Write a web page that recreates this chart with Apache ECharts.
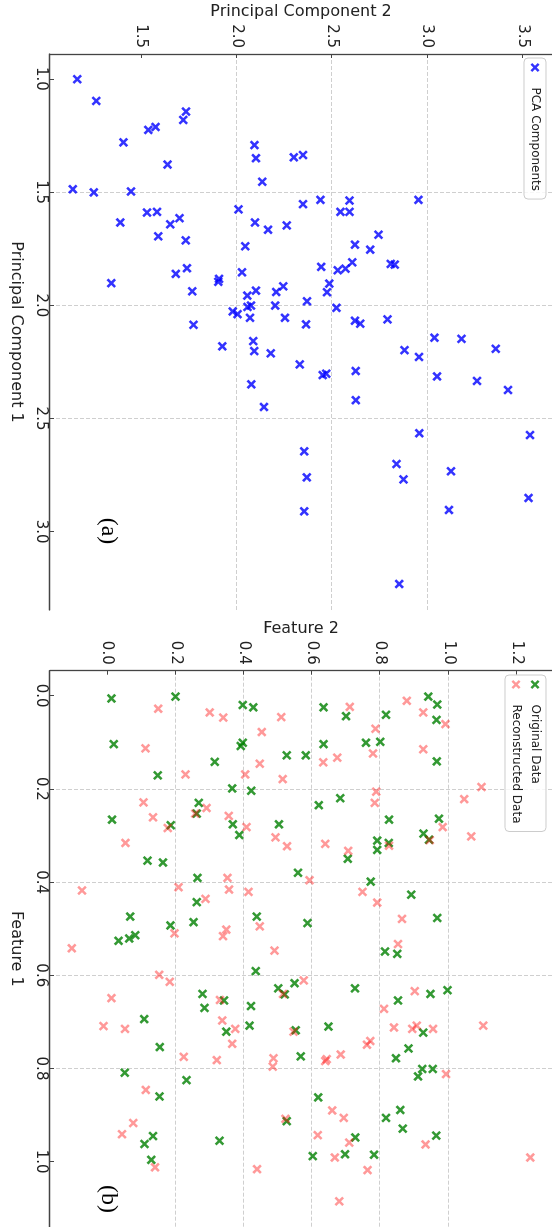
<!DOCTYPE html>
<html>
<head>
<meta charset="utf-8">
<script src="https://cdn.jsdelivr.net/npm/echarts@6.0.0/dist/echarts.min.js"></script>
<style>
  html, body { margin: 0; padding: 0; width: 552px; height: 1227px; overflow: hidden; background: #fff; }
  /* the figure is drawn landscape, then turned a quarter clockwise */
  #chart {
    position: absolute; left: 0; top: 0;
    width: 1227px; height: 552px;
    transform-origin: 0 0;
    transform: translate(552px, 0) rotate(90deg);
  }
</style>
</head>
<body>
<div id="chart"></div>
<script>
// (a) PCA components
const pc1 = [1.001, 1.097, 1.280, 1.225, 1.212, 1.181, 1.144, 1.292,
  1.378, 1.350, 1.454, 1.487, 1.501, 1.497, 1.634, 1.590, 1.587, 1.642, 1.615, 1.695, 1.713, 1.576, 1.634, 1.666, 1.647, 1.739, 1.836, 1.861, 1.902, 1.883, 1.896, 1.854, 1.938, 1.957, 1.935, 1.941, 1.916, 2.007, 2.001, 2.027, 2.039, 2.055, 2.001, 2.055, 2.086, 2.181, 2.158, 2.202, 2.212, 2.349, 2.449,
  1.346, 1.336, 1.553, 1.534, 1.537, 1.587, 1.587, 1.534, 1.688, 1.732, 1.754, 1.810, 1.830, 1.845, 1.838, 1.817, 1.820, 1.904, 1.942, 1.982, 2.011, 2.084, 2.068, 2.081, 2.062, 2.143, 2.148, 2.192, 2.198, 2.228, 2.261, 2.308, 2.302, 2.290, 2.314, 2.334, 2.374, 2.419, 2.565, 2.573, 2.645,
  2.760, 2.910, 2.701, 2.769, 2.733, 2.904, 2.851, 3.231];
const pc2 = [1.164, 1.264, 1.406, 1.537, 1.575, 1.720, 1.734, 2.093,
  1.638, 2.101, 2.134, 1.141, 1.251, 1.446, 1.390, 1.530, 1.582, 1.652, 1.700, 1.589, 1.733, 2.010, 2.096, 2.165, 2.263, 2.045, 1.739, 1.681, 1.343, 1.908, 1.904, 2.028, 1.767, 2.056, 2.101, 2.207, 2.244, 2.057, 2.075, 1.979, 2.005, 2.070, 2.202, 2.253, 1.774, 1.925, 2.087, 2.092, 2.179, 2.077, 2.143,
  2.300, 2.348, 2.348, 2.439, 2.592, 2.544, 2.592, 2.953, 2.744, 2.620, 2.700, 2.606, 2.443, 2.530, 2.571, 2.808, 2.829, 2.486, 2.474, 2.369, 2.523, 2.364, 2.620, 2.648, 2.791, 3.037, 3.179, 3.359, 2.880, 2.956, 2.331, 2.451, 2.470, 2.624, 3.051, 3.260, 3.423, 2.625, 2.958, 3.538, 2.354,
  2.368, 2.354, 2.838, 2.875, 3.124, 3.113, 3.531, 2.852];

// (b) original data
const origF1 = [0.006, 0.002, 0.020, 0.025, 0.104, 0.108, 0.101, 0.142, 0.171, 0.199, 0.204,
  0.025, 0.044, 0.041, 0.002, 0.019, 0.052, 0.104, 0.101, 0.099, 0.128, 0.128, 0.141,
  0.266, 0.230, 0.253, 0.278, 0.276, 0.299, 0.276, 0.354, 0.358, 0.391, 0.443, 0.474, 0.493, 0.486, 0.526, 0.521, 0.514, 0.474, 0.591, 0.628, 0.641, 0.640, 0.670, 0.654, 0.666, 0.708, 0.721, 0.694, 0.754,
  0.235, 0.220, 0.266, 0.311, 0.331, 0.316, 0.296, 0.309, 0.264, 0.350, 0.380, 0.399, 0.427, 0.477, 0.488, 0.549, 0.554, 0.617, 0.628, 0.654, 0.640, 0.632, 0.718, 0.710, 0.723, 0.757,
  0.809, 0.825, 0.860, 0.945, 0.962, 0.996, 0.955,
  0.774, 0.778, 0.801, 0.801, 0.817, 0.862, 0.906, 0.889, 0.929, 0.944, 0.913, 0.948, 0.988, 0.984, 0.985];
const origF2 = [0.012, 0.200, 0.397, 0.428, 0.019, 0.391, 0.397, 0.315, 0.148, 0.366, 0.422,
  0.634, 0.700, 0.817, 0.941, 0.967, 0.965, 0.634, 0.758, 0.800, 0.526, 0.582, 0.966,
  0.014, 0.268, 0.262, 0.186, 0.368, 0.387, 0.503, 0.118, 0.163, 0.264, 0.262, 0.067, 0.185, 0.253, 0.033, 0.064, 0.082, 0.438, 0.435, 0.501, 0.520, 0.279, 0.285, 0.342, 0.421, 0.417, 0.349, 0.108, 0.154,
  0.620, 0.683, 0.826, 0.791, 0.791, 0.825, 0.927, 0.943, 0.972, 0.705, 0.559, 0.772, 0.891, 0.967, 0.587, 0.814, 0.850, 0.549, 0.726, 0.852, 0.947, 0.997, 0.552, 0.648, 0.926, 0.883,
  0.051, 0.232, 0.153, 0.134, 0.109, 0.129, 0.329,
  0.567, 0.846, 0.923, 0.954, 0.911, 0.618, 0.817, 0.859, 0.866, 0.964, 0.526, 0.727, 0.602, 0.697, 0.782];

// (b) reconstructed data
const reconF1 = [0.028, 0.036, 0.047, 0.078, 0.113, 0.146, 0.169, 0.169,
  0.046, 0.024, 0.011, 0.036, 0.061, 0.071, 0.124, 0.143, 0.133, 0.115, 0.179, 0.196, 0.206,
  0.229, 0.261, 0.284, 0.253, 0.241, 0.258, 0.282, 0.304, 0.323, 0.316, 0.418, 0.411, 0.391, 0.416, 0.421, 0.436, 0.510, 0.502, 0.516, 0.495, 0.547, 0.542, 0.599, 0.614, 0.649, 0.709, 0.715, 0.653, 0.640, 0.697, 0.715, 0.747,
  0.230, 0.222, 0.282, 0.302, 0.318, 0.333, 0.322, 0.310, 0.396, 0.421, 0.444, 0.479, 0.533, 0.611, 0.634, 0.672, 0.712, 0.715, 0.708, 0.715, 0.708, 0.721, 0.749, 0.741, 0.770,
  0.775, 0.782, 0.846, 0.917, 0.941, 1.012, 1.016,
  0.778, 0.796, 0.784, 0.780, 0.812, 0.890, 0.906, 0.908, 0.943, 0.959, 0.991, 1.018, 0.963, 1.085, 0.991];
const reconF2 = [0.149, 0.300, 0.340, 0.453, 0.112, 0.447, 0.229, 0.404,
  0.510, 0.711, 0.878, 0.926, 0.991, 0.786, 0.779, 0.633, 0.674, 0.926, 0.514, 1.097, 0.788,
  0.106, 0.134, 0.177, 0.258, 0.291, 0.356, 0.408, 0.493, 0.527, 0.053, -0.074, 0.209, 0.352, 0.357, 0.414, 0.288, 0.197, 0.349, 0.339, 0.447, 0.490, -0.104, 0.152, 0.183, 0.012, -0.011, 0.052, 0.330, 0.515, 0.337, 0.375, 0.366,
  0.784, 1.046, 0.983, 1.067, 0.639, 0.706, 0.826, 0.945, 0.593, 0.748, 0.791, 0.864, 0.852, 0.576, 0.901, 0.811, 0.840, 0.894, 0.907, 0.955, 1.102, 0.546, 0.761, 0.771, 0.684,
  0.224, 0.321, 0.113, 0.076, 0.043, 0.140, 0.439,
  0.487, 0.485, 0.639, 0.643, 0.993, 0.659, 0.693, 0.522, 0.617, 0.709, 0.667, 0.763, 0.933, 0.680, 1.240];

// tick labels
const pc1Ticks = [1.0, 1.5, 2.0, 2.5, 3.0];
const pc2Ticks = [1.5, 2.0, 2.5, 3.0, 3.5];
const f1Ticks = [0.0, 0.2, 0.4, 0.6, 0.8, 1.0];
const f2Ticks = [0.0, 0.2, 0.4, 0.6, 0.8, 1.0, 1.2];

const zip = (xs, ys) => xs.map((v, i) => [v, ys[i]]);
const xMark = 'path://M0,1.9L1.9,0L5,3.1L8.1,0L10,1.9L6.9,5L10,8.1L8.1,10L5,6.9L1.9,10L0,8.1L3.1,5Z';

const axisColor = '#444';
const tickFont = { color: '#222', fontSize: 15, fontFamily: 'DejaVu Sans' };

function valueAxis(grid, min, max, ticks, name, gap, margin) {
  return {
    gridIndex: grid,
    type: 'value',
    min: min,
    max: max,
    name: name,
    nameLocation: 'middle',
    nameGap: gap,
    nameTextStyle: { color: '#222', fontSize: 16, fontFamily: 'DejaVu Sans' },
    axisLine: { show: true, onZero: false, lineStyle: { color: axisColor, width: 1.3 } },
    axisTick: { show: true, inside: true, length: 4, customValues: ticks, lineStyle: { color: axisColor } },
    axisLabel: Object.assign({ customValues: ticks, margin: margin, formatter: v => v.toFixed(1) }, tickFont),
    splitLine: { show: true, showMinLine: false, showMaxLine: false, lineStyle: { color: '#cfcfcf', type: [4, 2], width: 1 } },
  };
}

const legendBase = {
  orient: 'vertical',
  top: 6,
  padding: [5, 8, 5, 5],
  itemWidth: 30,
  itemHeight: 9,
  itemGap: 7,
  borderColor: '#cccccc',
  borderWidth: 1,
  borderRadius: 4,
  backgroundColor: 'rgba(255,255,255,0.8)',
  textStyle: { color: '#222', fontSize: 12, fontFamily: 'DejaVu Sans' },
};

const option = {
  animation: false,
  backgroundColor: '#fff',
  grid: [
    { left: 54, top: 0, width: 556, height: 502 },
    { left: 670.7, top: 0, width: 556.3, height: 502 },
  ],
  xAxis: [
    valueAxis(0, 0.8896, 3.3459, pc1Ticks, 'Principal Component 1', 26, 2),
    valueAxis(1, -0.0536, 1.1401, f1Ticks, 'Feature 1', 26, 2),
  ],
  yAxis: [
    valueAxis(0, 1.0212, 3.6536, pc2Ticks, 'Principal Component 2', 32, 6),
    valueAxis(1, -0.168, 1.3035, f2Ticks, 'Feature 2', 32, 6),
  ],
  legend: [
    Object.assign({}, legendBase, { left: 58, data: ['PCA Components'] }),
    Object.assign({}, legendBase, { left: 675, data: ['Original Data', 'Reconstructed Data'] }),
  ],
  graphic: [
    { type: 'text', x: 531, y: 444, style: { text: '(a)', fill: '#000', font: '24px "Liberation Serif"', align: 'center', verticalAlign: 'middle' } },
    { type: 'text', x: 1199, y: 444, style: { text: '(b)', fill: '#000', font: '24px "Liberation Serif"', align: 'center', verticalAlign: 'middle' } },
  ],
  series: [
    {
      name: 'PCA Components', type: 'scatter', xAxisIndex: 0, yAxisIndex: 0,
      symbol: xMark, symbolSize: 9.5, symbolKeepAspect: true,
      itemStyle: { color: '#0000ff' },
      data: zip(pc1, pc2),
    },
    {
      name: 'Original Data', type: 'scatter', xAxisIndex: 1, yAxisIndex: 1,
      symbol: xMark, symbolSize: 9.5, symbolKeepAspect: true,
      itemStyle: { color: '#008000' },
      data: zip(origF1, origF2),
    },
    {
      name: 'Reconstructed Data', type: 'scatter', xAxisIndex: 1, yAxisIndex: 1,
      symbol: xMark, symbolSize: 9.5, symbolKeepAspect: true,
      itemStyle: { color: 'rgba(255,0,0,0.5)' },
      data: zip(reconF1, reconF2),
    },
  ],
};

const myChart = echarts.init(document.getElementById('chart'));
myChart.setOption(option);
</script>
</body>
</html>
